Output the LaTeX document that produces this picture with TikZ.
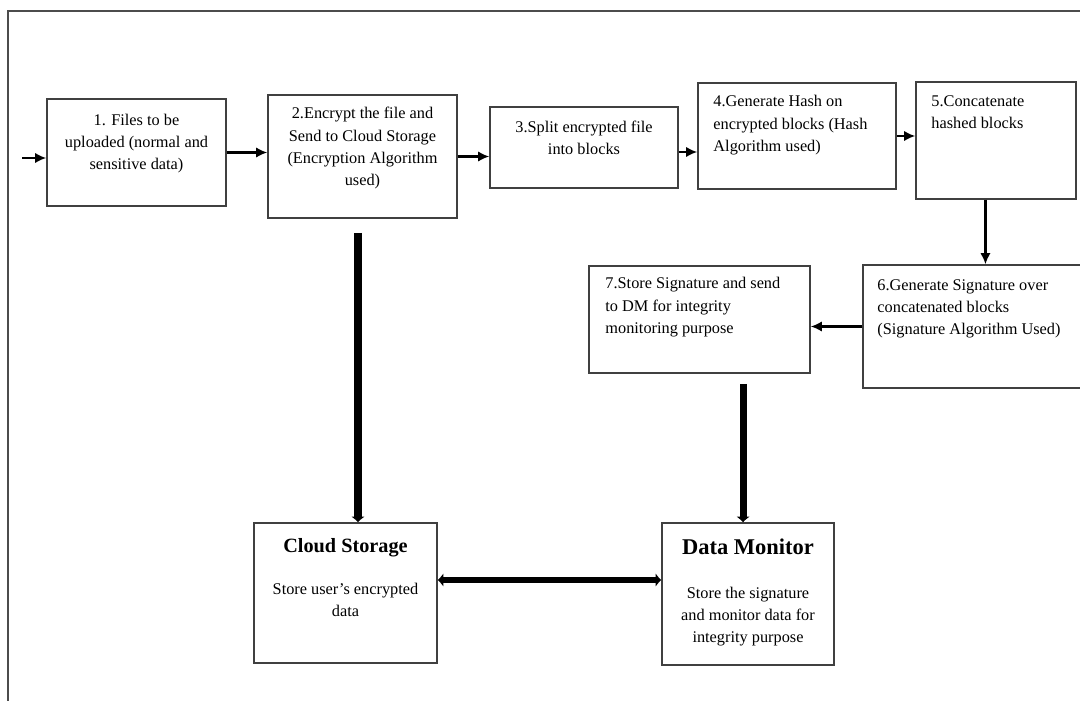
\documentclass[tikz,border=0pt]{standalone}
\usepackage{fontspec}
\setmainfont{Liberation Serif}
\usetikzlibrary{arrows.meta,positioning}

\begin{document}
\begin{tikzpicture}[
    x=0.025cm, y=-0.025cm,
    box/.style={rectangle, draw=black!75, line width=1pt, inner sep=0pt},
    txt/.style={inner sep=0pt, font=\fontsize{11.6}{15.8}\selectfont},
    title/.style={inner sep=0pt, font=\bfseries\fontsize{#1}{#1}\selectfont},
    arrow/.style={-{Latex[length=8pt,width=7.5pt]}, line width=1.6pt},
    bigarrow/.style={-{Latex[length=4pt,width=10pt]}, line width=5pt}
  ]
  \useasboundingbox (0,0) rectangle (1080,701);
  % frame
  \draw[line width=1.3pt, black!70] (8,701) -- (8,11) -- (1080,11);

  % top row
  \node[box, minimum width=4.475cm, minimum height=2.675cm] (files) at (136.5,152.5) {};
  \node[txt, align=center, below=11pt of files.north] (files-t) {1. Files to be\\uploaded (normal and\\sensitive data)};

  \node[box, minimum width=4.725cm, minimum height=3.075cm] (encrypt) at (362.5,156.5) {};
  \node[txt, align=center, below=9.2pt of encrypt.north] (encrypt-t) {2.Encrypt the file and\\Send to Cloud Storage\\(Encryption Algorithm\\used)};

  \node[box, minimum width=4.7cm, minimum height=2.025cm] (split) at (584,147.5) {};
  \node[txt, align=center, below=10pt of split.north] (split-t) {3.Split encrypted file\\into blocks};

  \node[box, minimum width=4.95cm, minimum height=2.65cm] (hash) at (797,136) {};
  \node[txt, align=left, below right=9.2pt and 11.3pt of hash.north west] (hash-t) {4.Generate Hash on\\encrypted blocks (Hash\\Algorithm used)};

  \node[box, minimum width=4cm, minimum height=2.925cm] (concat) at (996,140.5) {};
  \node[txt, align=left, below right=10pt and 11.3pt of concat.north west] (concat-t) {5.Concatenate\\hashed blocks};

  % middle row
  \node[box, minimum width=5.675cm, minimum height=3.075cm] (sign) at (976.5,326.5) {};
  \node[txt, align=left, below right=10.6pt and 10.6pt of sign.north west] (sign-t) {6.Generate Signature over\\concatenated blocks\\(Signature Algorithm Used)};

  \node[box, minimum width=5.525cm, minimum height=2.675cm] (store) at (699.5,319.5) {};
  \node[txt, align=left, below right=8.5pt and 12pt of store.north west] (store-t) {7.Store Signature and send\\to DM for integrity\\monitoring purpose};

  % bottom row
  \node[box, minimum width=4.575cm, minimum height=3.5cm] (cloud) at (345.5,593) {};
  \node[title=14.4, below=11.3pt of cloud.north] (cloud-t) {Cloud Storage};
  \node[txt, align=center, below=18pt of cloud-t.south] (cloud-b) {Store user’s encrypted\\data};

  \node[box, minimum width=4.3cm, minimum height=3.55cm] (monitor) at (748,594) {};
  \node[title=16, below=11.3pt of monitor.north] (monitor-t) {Data Monitor};
  \node[txt, align=center, below=22.7pt of monitor-t.south] (monitor-b) {Store the signature\\and monitor data for\\integrity purpose};

  % connectors
  \coordinate (start) at (22,158);
  \draw[arrow] (start) -- (start -| files.west);
  \draw[arrow] (files.east) -- (files.east -| encrypt.west);
  \draw[arrow] (encrypt.east) -- (encrypt.east -| split.west);
  \draw[arrow] ([yshift=-3.2pt]split.east) -- ([yshift=-3.2pt]split.east -| hash.west);
  \draw[arrow] (hash.east) -- (hash.east -| concat.west);
  \draw[arrow] ([xshift=-7.5pt]concat.south) -- ([xshift=-7.5pt]concat.south |- sign.north);
  \draw[arrow] (sign.west) -- (sign.west -| store.east);
  \draw[bigarrow] ([xshift=-3.2pt, yshift=-10pt]encrypt.south) -- ([xshift=-3.2pt]encrypt.south |- cloud.north);
  \draw[bigarrow] ([xshift=-3.5pt]monitor.north |- 0,384) -- ([xshift=-3.5pt]monitor.north);
  \draw[bigarrow, {Latex[length=4pt,width=10pt]}-{Latex[length=4pt,width=10pt]}, line width=4.5pt] (cloud.east |- 0,580) -- (monitor.west |- 0,580);
\end{tikzpicture}
\end{document}
